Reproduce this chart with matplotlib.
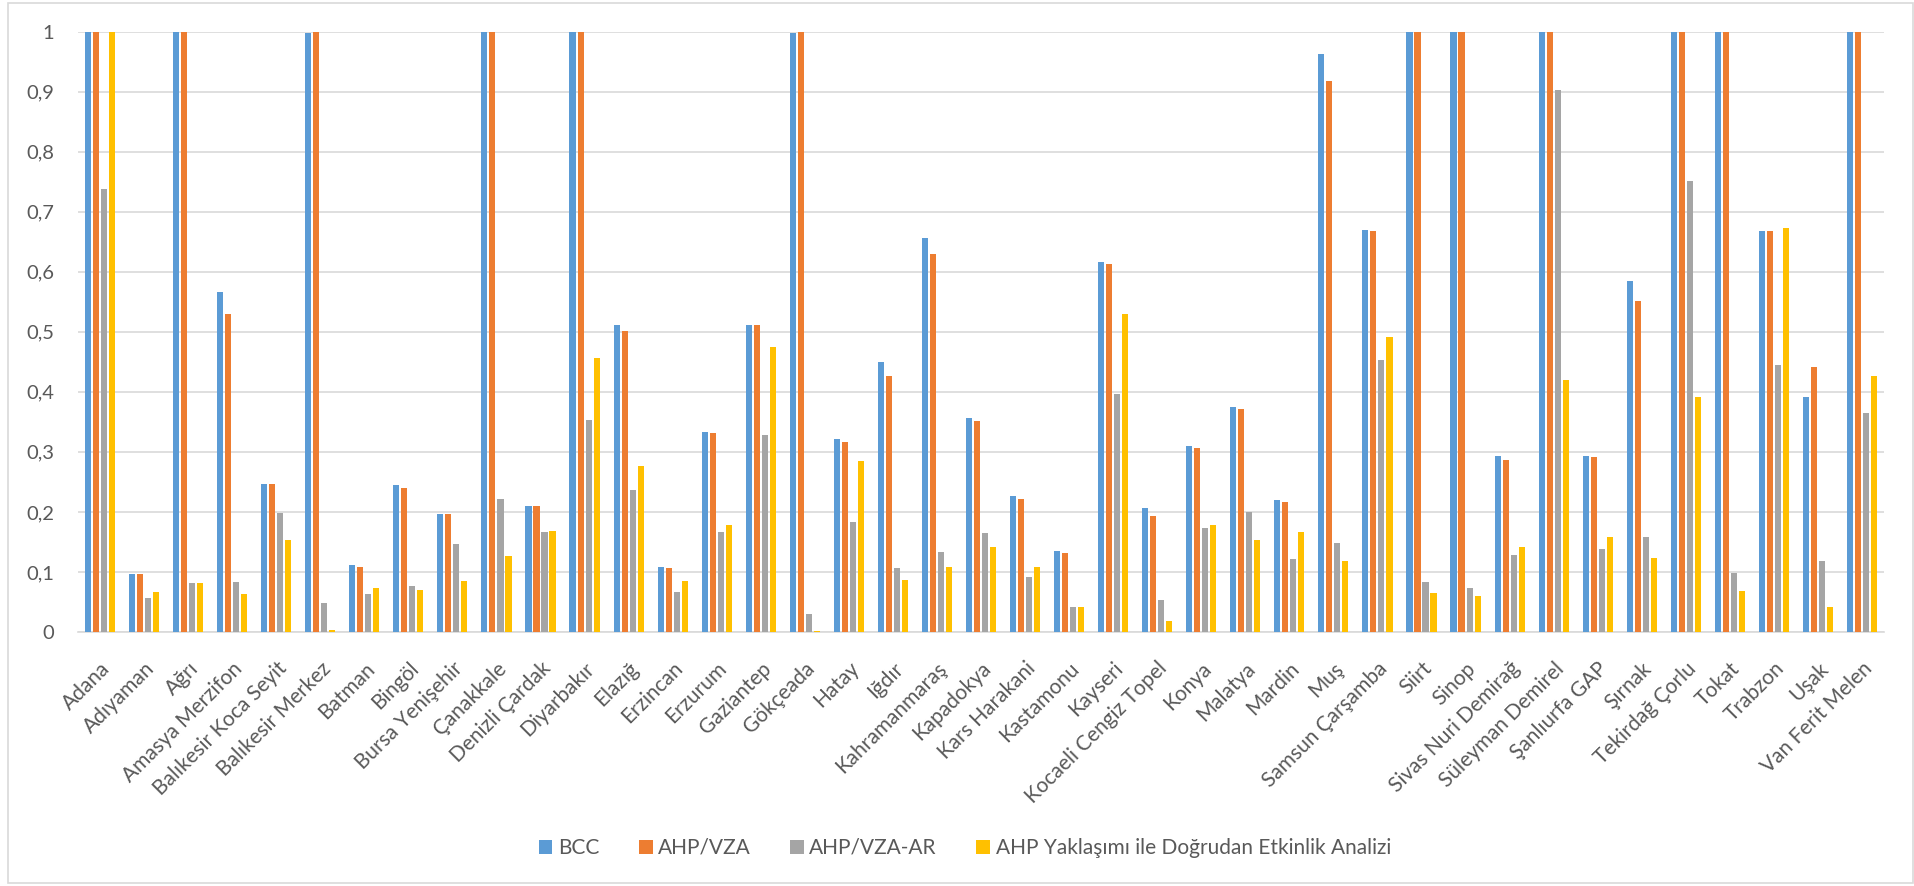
import numpy as np
import matplotlib
matplotlib.use("Agg")
import matplotlib.pyplot as plt
from matplotlib.patches import Rectangle

plt.rcParams['font.family'] = ['Lato', 'DejaVu Sans']

# birimler
birimler = ["Adana", "Adıyaman", "Ağrı", "Amasya Merzifon", "Balıkesir Koca Seyit",
            "Balıkesir Merkez", "Batman", "Bingöl", "Bursa Yenişehir", "Çanakkale",
            "Denizli Çardak", "Diyarbakır", "Elazığ", "Erzincan", "Erzurum",
            "Gaziantep", "Gökçeada", "Hatay", "Iğdır", "Kahramanmaraş",
            "Kapadokya", "Kars Harakani", "Kastamonu", "Kayseri", "Kocaeli Cengiz Topel",
            "Konya", "Malatya", "Mardin", "Muş", "Samsun Çarşamba",
            "Siirt", "Sinop", "Sivas Nuri Demirağ", "Süleyman Demirel", "Şanlıurfa GAP",
            "Şırnak", "Tekirdağ Çorlu", "Tokat", "Trabzon", "Uşak", "Van Ferit Melen"]

bcc = [1, 0.097, 1, 0.566, 0.247, 0.998, 0.111, 0.245, 0.196, 1,
       0.210, 1, 0.512, 0.108, 0.333, 0.511, 0.997, 0.321, 0.449, 0.656,
       0.356, 0.226, 0.135, 0.617, 0.207, 0.309, 0.374, 0.220, 0.963, 0.670,
       1, 1, 0.293, 1, 0.293, 0.585, 1, 1, 0.667, 0.392, 1]
ahp_vza = [1, 0.096, 1, 0.529, 0.247, 1, 0.109, 0.239, 0.196, 1,
           0.209, 1, 0.501, 0.107, 0.331, 0.511, 1, 0.317, 0.427, 0.629,
           0.351, 0.221, 0.131, 0.613, 0.193, 0.307, 0.371, 0.217, 0.918, 0.667,
           1, 1, 0.286, 1, 0.291, 0.552, 1, 1, 0.667, 0.441, 1]
ahp_vza_ar = [0.738, 0.057, 0.081, 0.083, 0.198, 0.048, 0.064, 0.076, 0.147, 0.222,
              0.166, 0.353, 0.237, 0.067, 0.166, 0.328, 0.030, 0.184, 0.107, 0.133,
              0.165, 0.092, 0.042, 0.396, 0.053, 0.174, 0.200, 0.122, 0.148, 0.453,
              0.084, 0.074, 0.128, 0.903, 0.139, 0.158, 0.751, 0.098, 0.445, 0.118, 0.364]
ahp_dea = [1, 0.067, 0.081, 0.064, 0.154, 0.003, 0.074, 0.070, 0.085, 0.126,
           0.169, 0.457, 0.276, 0.085, 0.178, 0.474, 0.001, 0.284, 0.087, 0.109,
           0.141, 0.109, 0.041, 0.530, 0.018, 0.179, 0.153, 0.167, 0.118, 0.492,
           0.065, 0.060, 0.141, 0.420, 0.158, 0.123, 0.392, 0.068, 0.672, 0.041, 0.426]

seriler = ["BCC", "AHP/VZA", "AHP/VZA-AR", "AHP Yaklaşımı ile Doğrudan Etkinlik Analizi"]
renkler = ["#5B9BD5", "#ED7D31", "#A5A5A5", "#FFC000"]

fig = plt.figure(figsize=(19.14, 8.86), dpi=100)
ax = fig.add_axes([0.04075, 0.2867, 0.94358, 0.6777])

x = np.arange(len(birimler))
adim = 0.182
genislik = 0.138
for i, (veri, ad, renk) in enumerate(zip([bcc, ahp_vza, ahp_vza_ar, ahp_dea], seriler, renkler)):
    ax.bar(x + (i - 1.5) * adim, veri, genislik, color=renk, label=ad, zorder=3)

ax.set_xlim(-0.5, len(birimler) - 0.5)
ax.set_ylim(0, 1)
ax.set_yticks(np.arange(0, 1.01, 0.1))
ax.set_yticklabels(["0"] + [f"0,{k}" for k in range(1, 10)] + ["1"])
ax.yaxis.grid(True, color="#D9D9D9", linewidth=1.2, zorder=0)
ax.set_axisbelow(True)
for s in ["top", "right", "left"]:
    ax.spines[s].set_visible(False)
ax.spines["bottom"].set_color("#D9D9D9")
ax.spines["bottom"].set_linewidth(1.2)
ax.tick_params(axis="y", length=0, pad=17, labelsize=14.5, labelcolor="#595959")
ax.tick_params(axis="x", length=0, pad=19)
ax.set_xticks(x)
ax.set_xticklabels(birimler, rotation=45, ha="right", va="top", rotation_mode="anchor",
                   fontsize=15, color="#595959")

fig.legend(loc="center", bbox_to_anchor=(0.504, 0.043), ncol=4, frameon=False,
           fontsize=15, handlelength=0.67, handleheight=0.67, handletextpad=0.25,
           columnspacing=1.9, labelcolor="#595959")

# dış çerçeve
fig.patches.append(Rectangle((0.0042, 0.0034), 0.9953, 0.9932, transform=fig.transFigure,
                             fill=False, edgecolor="#D9D9D9", linewidth=1.2))

fig.savefig("out.png", dpi=100)
